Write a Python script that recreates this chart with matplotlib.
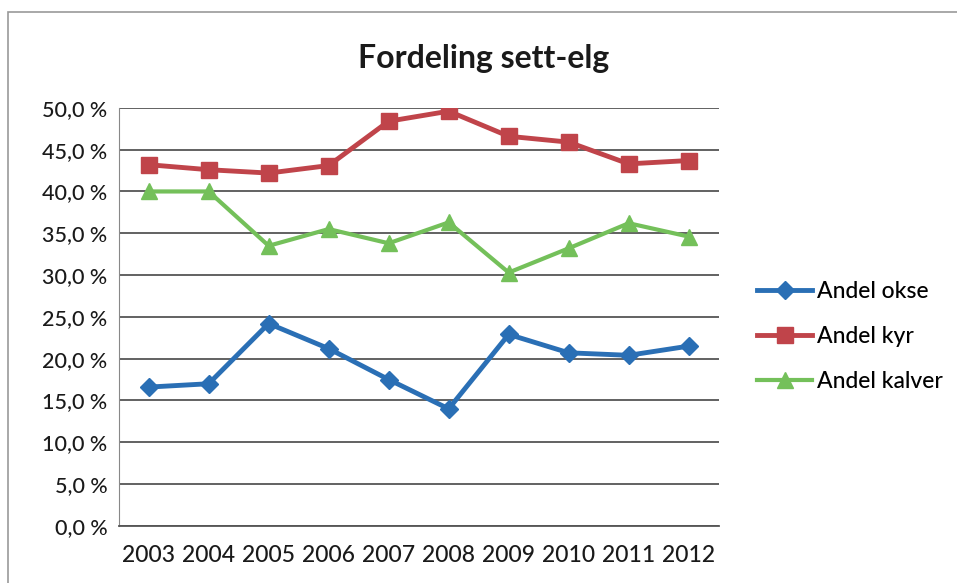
import matplotlib.pyplot as plt
from matplotlib.ticker import FuncFormatter
from matplotlib.patches import Rectangle

years = ['2003', '2004', '2005', '2006', '2007', '2008', '2009', '2010', '2011', '2012']
andel_okse = [16.6, 17.0, 24.2, 21.2, 17.5, 14.0, 22.9, 20.7, 20.4, 21.5]
andel_kyr = [43.2, 42.6, 42.2, 43.1, 48.4, 49.6, 46.6, 45.9, 43.3, 43.7]
andel_kalver = [40.0, 40.0, 33.5, 35.5, 33.8, 36.3, 30.3, 33.2, 36.2, 34.6]

plt.rcParams['font.family'] = ['Lato', 'DejaVu Sans']
plt.rcParams['font.weight'] = 'medium'

fig = plt.figure(figsize=(9.57, 5.83), dpi=100)
ax = fig.add_axes([0.124, 0.098, 0.627, 0.717])

x = range(len(years))
ax.plot(x, andel_okse, color='#2a6fb5', lw=3.5, marker='D', ms=9, label='Andel okse')
ax.plot(x, andel_kyr, color='#c0444a', lw=3.5, marker='s', ms=11, label='Andel kyr')
ax.plot(x, andel_kalver, color='#74c05a', lw=3.0, marker='^', ms=11, label='Andel kalver')

ax.set_xlim(-0.5, len(years) - 0.5)
ax.set_ylim(0, 50)
ax.set_yticks(range(0, 51, 5))
ax.yaxis.set_major_formatter(FuncFormatter(lambda v, p: f'{v:.1f} %'.replace('.', ',')))
ax.set_xticks(list(x))
ax.set_xticklabels(years)
ax.tick_params(axis='both', labelsize=15.5, colors='#1a1a1a', length=0, pad=8)
ax.tick_params(axis='x', labelsize=16.5, pad=14)
ax.grid(axis='y', color='#555555', lw=1.3)
ax.set_axisbelow(True)
for s in ['top', 'right']:
    ax.spines[s].set_visible(False)
ax.spines['left'].set_color('#888888')
ax.spines['bottom'].set_color('#555555')
ax.spines['bottom'].set_linewidth(1.3)

fig.text(0.505, 0.9, 'Fordeling sett-elg', ha='center', va='center',
         fontsize=23, fontweight='bold', color='#1a1a1a')

ax.legend(loc='center left', bbox_to_anchor=(1.03, 0.452), frameon=False,
          fontsize=16.5, handlelength=2.4, handletextpad=0.2, labelspacing=1.05)

# chart frame
fig.patches.append(Rectangle((0.008, -0.05), 1.2, 1.029, transform=fig.transFigure,
                             fill=False, edgecolor='#999999', lw=1.2))

fig.savefig('out.png', dpi=100)
